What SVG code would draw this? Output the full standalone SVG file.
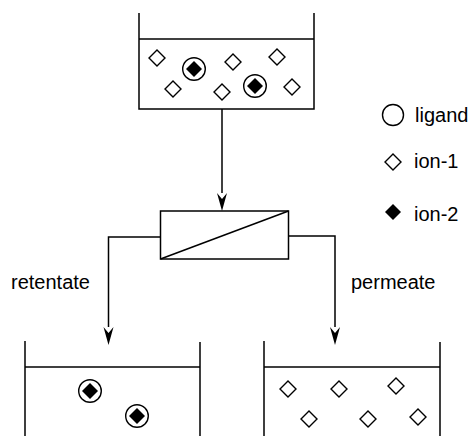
<svg xmlns="http://www.w3.org/2000/svg" width="473" height="436" viewBox="0 0 473 436">
<style>
.ln{fill:none;stroke:#000;stroke-width:1.5}
.d{fill:#fff;stroke:#000;stroke-width:1.4}
.f{fill:#000;stroke:none}
.c{fill:#fff;stroke:#000;stroke-width:1.4}
.ah{fill:#000;stroke:none}
text{font-family:"Liberation Sans",Arial,sans-serif;font-size:20px;fill:#000}
</style>
<defs>
<path id="dia" d="M0,-8 L8,0 L0,8 L-8,0 Z" class="d"/>
<g id="ion2"><circle r="11.3" class="c"/><path d="M0,-8 L8,0 L0,8 L-8,0 Z" class="f"/></g>
</defs>
<g id="connectors">
<path class="ln" d="M222,109 V193"/>
<path class="ah" d="M217,193 L222,211 L227,193 L222,199 Z"/>
<path class="ln" d="M160,237 H108.5 V327"/>
<path class="ah" d="M103.5,327 L108.5,345 L113.5,327 L108.5,333 Z"/>
<path class="ln" d="M288,236 H335 V327"/>
<path class="ah" d="M330,327 L335,345 L340,327 L335,333 Z"/>
</g>
<g id="feed-tank">
<path class="ln" d="M139,13 V109 H314 V13"/>
<path class="ln" d="M139,39 H314"/>
<use href="#dia" x="157" y="58"/>
<use href="#dia" x="173" y="89"/>
<use href="#ion2" x="194" y="69"/>
<use href="#dia" x="233" y="62"/>
<use href="#dia" x="222" y="92"/>
<use href="#dia" x="277" y="57"/>
<use href="#ion2" x="255" y="86"/>
<use href="#dia" x="292" y="87"/>
</g>
<g id="membrane">
<rect x="160.5" y="211" width="128" height="48" class="ln"/>
<path class="ln" d="M160.5,259 L288.5,211"/>
</g>
<g id="retentate-tank">
<path class="ln" d="M25,341 V436 M200,342 V436"/>
<path class="ln" d="M25,367 H200"/>
<use href="#ion2" x="90" y="391"/>
<use href="#ion2" x="137" y="416"/>
<text x="11" y="289">retentate</text>
</g>
<g id="permeate-tank">
<path class="ln" d="M264,341 V436 M440,342 V436"/>
<path class="ln" d="M264,367 H440"/>
<use href="#dia" x="288" y="389"/>
<use href="#dia" x="339" y="389"/>
<use href="#dia" x="396" y="386"/>
<use href="#dia" x="309" y="419"/>
<use href="#dia" x="368" y="419"/>
<use href="#dia" x="418" y="417"/>
<text x="351" y="289">permeate</text>
</g>
<g id="legend">
<circle cx="393" cy="115" r="10.5" class="c"/>
<text x="415" y="122">ligand</text>
<use href="#dia" x="393" y="162"/>
<text x="414" y="168">ion-1</text>
<path d="M393,204 L401,212 L393,220 L385,212 Z" class="f"/>
<text x="414" y="221">ion-2</text>
</g>
</svg>
